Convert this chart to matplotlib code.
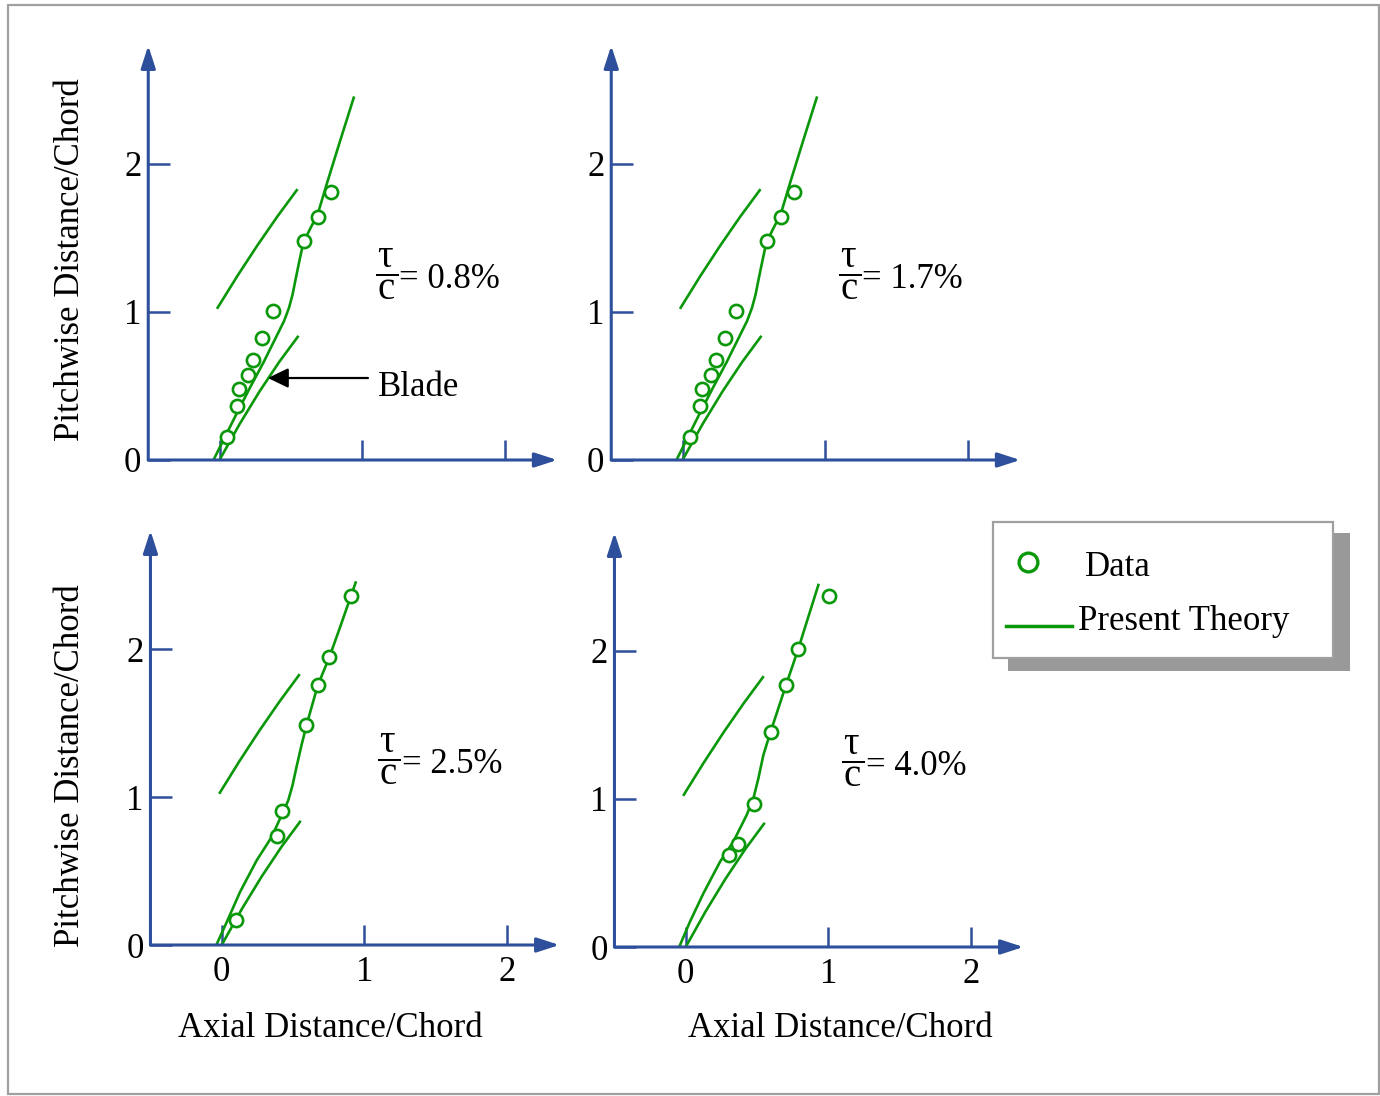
import numpy as np
import matplotlib.pyplot as plt
from matplotlib.patches import Rectangle
from matplotlib.lines import Line2D

plt.rcParams['font.family'] = ['Liberation Serif', 'DejaVu Serif']
plt.rcParams['mathtext.fontset'] = 'custom'
plt.rcParams['mathtext.rm'] = 'Liberation Serif'
plt.rcParams['mathtext.it'] = 'Liberation Serif:italic'
plt.rcParams['mathtext.bf'] = 'Liberation Serif:bold'

W, H = 1380, 1096
GREEN = '#0a980a'
BLUE = '#2e4f9c'
FS = 25

# --- values (axial, pitchwise distance / chord) ---
blade_lo_x = [0.0, 0.14, 0.28, 0.42, 0.549]
blade_lo_y = [0.0, 0.241, 0.462, 0.664, 0.832]
blade_up_x = [-0.013, 0.125, 0.265, 0.405, 0.542]
blade_up_y = [1.029, 1.243, 1.449, 1.644, 1.823]

theory1_x = [-0.048, 0.036, 0.120, 0.214, 0.308, 0.401, 0.453, 0.488, 0.513, 0.534,
             0.558, 0.588, 0.640, 0.689, 0.752, 0.846, 0.942]
theory1_y = [-0.011, 0.151, 0.313, 0.489, 0.658, 0.838, 0.939, 1.029, 1.119, 1.221,
             1.333, 1.468, 1.570, 1.660, 1.863, 2.155, 2.448]
data1_x = [0.050, 0.121, 0.135, 0.198, 0.233, 0.296, 0.378, 0.591, 0.689, 0.785]
data1_y = [0.155, 0.365, 0.477, 0.572, 0.676, 0.826, 1.007, 1.478, 1.644, 1.811]

theory2_x = theory1_x
theory2_y = theory1_y
data2_x = data1_x
data2_y = data1_y

theory3_x = [-0.047, 0.035, 0.128, 0.245, 0.350, 0.420, 0.467, 0.497, 0.525, 0.560,
             0.595, 0.674, 0.756, 0.828, 0.908, 0.940]
theory3_y = [-0.020, 0.154, 0.357, 0.571, 0.729, 0.876, 0.977, 1.079, 1.203, 1.350,
             1.485, 1.754, 1.946, 2.140, 2.361, 2.449]
data3_x = [0.098, 0.385, 0.425, 0.595, 0.674, 0.756, 0.908]
data3_y = [0.172, 0.734, 0.907, 1.485, 1.754, 1.946, 2.361]

theory4_x = [-0.052, 0.030, 0.124, 0.241, 0.334, 0.428, 0.475, 0.510, 0.545, 0.596,
             0.704, 0.790, 0.861, 0.931]
theory4_y = [-0.014, 0.171, 0.362, 0.576, 0.711, 0.892, 1.004, 1.139, 1.297, 1.455,
             1.770, 2.014, 2.232, 2.446]
data4_x = [0.302, 0.367, 0.482, 0.596, 0.704, 0.790, 1.003]
data4_y = [0.622, 0.693, 0.964, 1.455, 1.770, 2.014, 2.369]

ratios = ['0.8%', '1.7%', '2.5%', '4.0%']
ticks = [0, 1, 2]

panels = [
    (theory1_x, theory1_y, data1_x, data1_y),
    (theory2_x, theory2_y, data2_x, data2_y),
    (theory3_x, theory3_y, data3_x, data3_y),
    (theory4_x, theory4_y, data4_x, data4_y),
]
# pixel position of the origin of each panel
origins = [(219.5, 460), (682.5, 460), (221.7, 945), (685.7, 947)]
SX, SY = 142.5, 148.0
XLIM = (-0.5, 2.37)
YLIM = (0.0, 2.8)

fig = plt.figure(figsize=(W / 100, H / 100), dpi=100)

# outer frame
fig.patches.append(Rectangle((8 / W, 1 - 1094 / H), 1371 / W, 1089 / H, transform=fig.transFigure,
                             fill=False, edgecolor='#a0a0a0', lw=1.6))

axes = []
for i, (tx, ty, dx, dy) in enumerate(panels):
    x0, y0 = origins[i]
    left = x0 + XLIM[0] * SX
    right = x0 + XLIM[1] * SX
    top = y0 - YLIM[1] * SY
    ax = fig.add_axes([left / W, 1 - y0 / H, (right - left) / W, (y0 - top) / H])
    ax.set_xlim(XLIM)
    ax.set_ylim(YLIM)
    ax.patch.set_visible(False)
    for s in ax.spines.values():
        s.set_visible(False)

    ax.plot(blade_lo_x, blade_lo_y, color=GREEN, lw=1.9)
    ax.plot(blade_up_x, blade_up_y, color=GREEN, lw=1.9)
    ax.plot(tx, ty, color=GREEN, lw=1.9)
    ax.plot(dx, dy, 'o', ms=9.5, mfc='white', mec=GREEN, mew=1.9, zorder=3)

    # axes with arrow heads
    arr = dict(arrowstyle='-|>,head_length=0.68,head_width=0.22', color=BLUE, lw=2.2,
               shrinkA=0, shrinkB=0, mutation_scale=20)
    ax.annotate('', xy=(1, 0), xytext=(0, 0), xycoords='axes fraction',
                arrowprops=arr, annotation_clip=False)
    ax.annotate('', xy=(0, 1), xytext=(0, 0), xycoords='axes fraction',
                arrowprops=arr, annotation_clip=False)

    ax.set_xticks(ticks)
    ax.set_yticks(ticks)
    ax.tick_params(axis='x', direction='in', length=14.5, width=1.8, color=BLUE,
                   labelsize=FS, pad=8)
    ax.tick_params(axis='y', direction='in', length=16, width=1.8, color=BLUE,
                   labelsize=FS, pad=5)
    if i < 2:
        ax.tick_params(axis='x', labelbottom=False)

    # tau / c annotation
    ax.text(1.255, 1.172, r'$\dfrac{\hspace{0.1}\mathrm{\tau}\hspace{0.1}}{\mathrm{c}}$',
            ha='right', va='baseline', fontsize=28)
    ax.text(1.262, 1.165, '= ' + ratios[i], ha='left', va='baseline', fontsize=FS)
    axes.append(ax)

# blade pointer on the first panel
axes[0].annotate('', xy=(0.340, 0.554), xytext=(1.042, 0.554),
                 arrowprops=dict(arrowstyle='-|>,head_length=0.62,head_width=0.3', color='black',
                                 lw=1.6, shrinkA=0, shrinkB=0, mutation_scale=20))
axes[0].text(1.112, 0.432, 'Blade', ha='left', va='baseline', fontsize=FS)

# axis titles
for yc in (260, 766):
    fig.text(71 / W, 1 - yc / H, 'Pitchwise Distance/Chord', rotation=90,
             ha='center', va='center', fontsize=FS)
for xc in (330, 840):
    fig.text(xc / W, 1 - 1037 / H, 'Axial Distance/Chord', ha='center', va='baseline', fontsize=FS)

# legend box with shadow
fig.patches.append(Rectangle((1008 / W, 1 - 671 / H), 342 / W, 138 / H, transform=fig.transFigure,
                             facecolor='#999999', edgecolor='none'))
fig.patches.append(Rectangle((993 / W, 1 - 658 / H), 340 / W, 136 / H, transform=fig.transFigure,
                             facecolor='white', edgecolor='#a0a0a0', lw=1.6))
fig.lines.append(Line2D([1027.7 / W], [1 - 561.7 / H], marker='o', ms=13.5, mfc='white',
                        mec=GREEN, mew=2.4, transform=fig.transFigure))
fig.lines.append(Line2D([1006 / W, 1072 / W], [1 - 626 / H, 1 - 626 / H], color=GREEN, lw=2.5,
                        transform=fig.transFigure))
fig.text(1085 / W, 1 - 576 / H, 'Data', ha='left', va='baseline', fontsize=FS)
fig.text(1078 / W, 1 - 630 / H, 'Present Theory', ha='left', va='baseline', fontsize=FS)

fig.savefig('out.png', dpi=100)
